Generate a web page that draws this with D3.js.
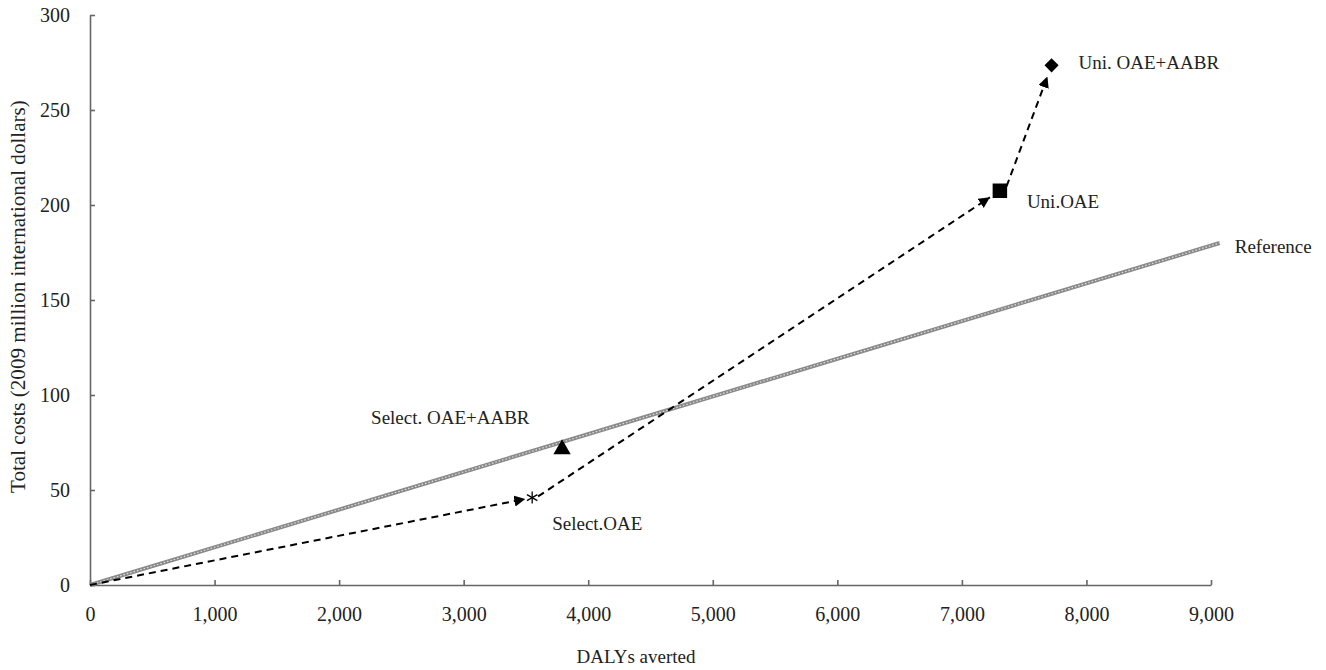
<!DOCTYPE html>
<meta charset="utf-8">
<style>
body { margin: 0; background: #fff; }
text { font-family: "Liberation Serif", "Times New Roman", serif; fill: #222; }
.axis path, .axis line { stroke: #666; stroke-width: 1.6px; }
.axis text { font-size: 20px; fill: #222; font-family: "Liberation Serif", serif; }
.lbl { font-size: 19px; }
</style>
<svg width="1326" height="670"></svg>
<script src="https://d3js.org/d3.v7.min.js"></script>
<script>

// interventions (DALYs averted, total cost in 2009 million int. $)
var names = ["Select.OAE", "Select. OAE+AABR", "Uni.OAE", "Uni. OAE+AABR"];
var dalys = [3550, 3790, 7305, 7720];
var costs = [46, 72, 207.5, 273.5];
var symbols = ["asterisk", "triangle", "square", "diamond"];

// expansion path (dashed arrows): origin -> Select.OAE -> Uni.OAE -> Uni. OAE+AABR
var pathIdx = [0, 2, 3];

// reference line end point
var refX = [0, 9070];
var refY = [0, 180];

var xTicks = [0, 1000, 2000, 3000, 4000, 5000, 6000, 7000, 8000, 9000];
var yTicks = [0, 50, 100, 150, 200, 250, 300];

var svg = d3.select("svg");

var x = d3.scaleLinear().domain([0, 9000]).range([90, 1211]);
var y = d3.scaleLinear().domain([0, 300]).range([585, 15]);

svg.append("defs").append("marker")
    .attr("id", "arrow")
    .attr("viewBox", "0 0 10 10")
    .attr("refX", 10).attr("refY", 5)
    .attr("markerWidth", 11).attr("markerHeight", 11)
    .attr("markerUnits", "userSpaceOnUse")
    .attr("orient", "auto")
  .append("path")
    .attr("d", "M0,0L10,5L0,10z")
    .attr("fill", "#000");

// axes
svg.append("g")
    .attr("class", "axis")
    .attr("transform", "translate(0," + y(0) + ")")
    .call(d3.axisBottom(x).tickValues(xTicks).tickSizeInner(-5).tickSizeOuter(0).tickPadding(22)
      .tickFormat(d3.format(",")));

svg.append("g")
    .attr("class", "axis")
    .attr("transform", "translate(" + x(0) + ",0)")
    .call(d3.axisLeft(y).tickValues(yTicks).tickSizeInner(-5).tickSizeOuter(0).tickPadding(20));

// reference line (textured grey)
svg.append("line")
    .attr("x1", x(refX[0])).attr("y1", y(refY[0]))
    .attr("x2", x(refX[1])).attr("y2", y(refY[1]))
    .attr("stroke", "#8a8a8a").attr("stroke-width", 4);
svg.append("line")
    .attr("x1", x(refX[0])).attr("y1", y(refY[0]))
    .attr("x2", x(refX[1])).attr("y2", y(refY[1]))
    .attr("stroke", "#e0e0e0").attr("stroke-width", 1.2)
    .attr("stroke-dasharray", "1.5,2");

// dashed arrows
var prev = [x(0), y(0)];
pathIdx.forEach(function(i) {
  var tx = x(dalys[i]), ty = y(costs[i]);
  var dx = tx - prev[0], dy = ty - prev[1];
  var len = Math.sqrt(dx * dx + dy * dy);
  var cut = i === 0 ? 7 : 12;
  svg.append("line")
      .attr("x1", prev[0]).attr("y1", prev[1])
      .attr("x2", tx - dx / len * cut).attr("y2", ty - dy / len * cut)
      .attr("stroke", "#000").attr("stroke-width", 2)
      .attr("stroke-dasharray", "7,5")
      .attr("marker-end", "url(#arrow)");
  prev = [tx + dx / len * (i === 0 ? 6 : 8), ty + dy / len * (i === 0 ? 6 : 8)];
});

// markers
var pts = svg.append("g");
dalys.forEach(function(d, i) {
  var px = x(d), py = y(costs[i]);
  var s = symbols[i];
  if (s === "asterisk") {
    var r = 6;
    [0, 60, 120].forEach(function(a) {
      var rad = a * Math.PI / 180 + Math.PI / 2;
      pts.append("line")
          .attr("x1", px - r * Math.cos(rad)).attr("y1", py - r * Math.sin(rad))
          .attr("x2", px + r * Math.cos(rad)).attr("y2", py + r * Math.sin(rad))
          .attr("stroke", "#000").attr("stroke-width", 1.3);
    });
  } else if (s === "triangle") {
    pts.append("path")
        .attr("transform", "translate(" + px + "," + (py + 1) + ")")
        .attr("d", d3.symbol().type(d3.symbolTriangle).size(130)())
        .attr("fill", "#000");
  } else {
    pts.append("path")
        .attr("transform", "translate(" + px + "," + py + ")" + (s === "diamond" ? " rotate(45)" : ""))
        .attr("d", d3.symbol().type(d3.symbolSquare).size(s === "diamond" ? 100 : 210)())
        .attr("fill", "#000");
  }
});

// point labels
var lblOff = [[20, 26], [-191, -31], [27, 11], [27, -3]];
names.forEach(function(n, i) {
  svg.append("text")
      .attr("class", "lbl")
      .attr("x", x(dalys[i]) + lblOff[i][0])
      .attr("y", y(costs[i]) + lblOff[i][1])
      .attr("dy", "0.35em")
      .text(n);
});

svg.append("text")
    .attr("class", "lbl")
    .attr("x", x(refX[1]) + 15)
    .attr("y", y(refY[1]) + 3)
    .attr("dy", "0.35em")
    .text("Reference");

// axis titles
svg.append("text")
    .attr("class", "lbl")
    .attr("text-anchor", "middle")
    .attr("x", 636).attr("y", 656)
    .attr("dy", "0.35em")
    .text("DALYs averted");

// y title: size it so it runs from about y=493 up to y=107 like the original
var probe = svg.append("text").attr("font-size", "20px")
    .text("Total costs (2009 million international dollars");
var fs = 20 * 386 / probe.node().getComputedTextLength();
probe.remove();

svg.append("text")
    .attr("text-anchor", "start")
    .attr("font-size", fs + "px")
    .attr("transform", "translate(18,493) rotate(-90)")
    .attr("dy", "0.35em")
    .text("Total costs (2009 million international dollars)");

</script>
